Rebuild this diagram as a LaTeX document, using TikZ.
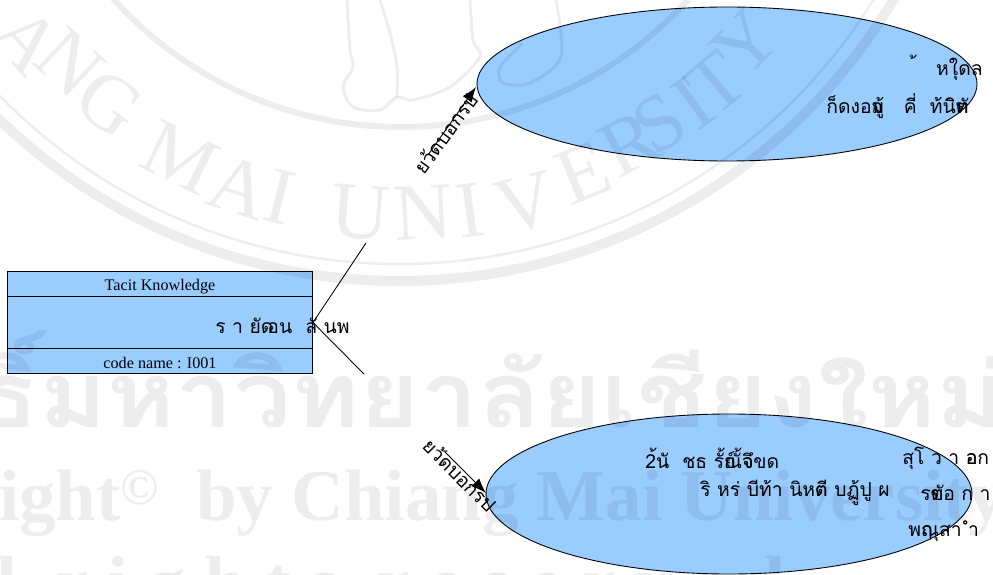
\documentclass[tikz,border=0pt]{standalone}
\usepackage{fontspec}
\setmainfont{Liberation Serif}
\newfontfamily\thaifont[Script=Thai]{Loma}
\newfontfamily\sealthai[Script=Thai,FakeStretch=1.13]{Loma}
\usetikzlibrary{arrows.meta,positioning,shapes.geometric}
\newcommand{\ovl}[2]{\rlap{#1}#2}
\definecolor{fillblue}{HTML}{99CCFF}
\tikzset{
  partbox/.style = {draw, fill=fillblue, minimum width=6.1cm, inner sep=0pt, line width=0.5pt},
  blob/.style = {draw, ellipse, fill=fillblue, inner sep=0pt, line width=0.5pt},
  latintext/.style = {inner sep=0pt, font=\fontsize{9.2}{10}\selectfont},
  thaitext/.style = {inner sep=0pt, anchor=west, font=\thaifont\fontsize{11}{12}\selectfont},
  linklabel/.style = {inner sep=0pt, font=\thaifont\fontsize{11}{12}\selectfont},
  link/.style = {line width=0.5pt},
  linkhead/.style = {line width=0.5pt, -{Latex[length=0.3cm,width=0.22cm]}},
  wmark/.style = {inner sep=0pt, text=black, text opacity=0.07},
  wline/.style = {draw=black, draw opacity=0.07}
}
\begin{document}
\begin{tikzpicture}
  \useasboundingbox (0,0) rectangle (19.86,11.48);
  \clip (0,0) rectangle (19.86,11.48);

  % Boxes
  \node[partbox, minimum height=0.5cm] (title) at (3.2,5.8) {};
  \node[partbox, minimum height=1.04cm] (body) at (3.2,5.03) {};
  \node[partbox, minimum height=0.5cm] (code) at (3.2,4.26) {};
  \node[latintext] (titletext) at (3.2,5.75) {Tacit Knowledge};
  \node[latintext] (codetext) at (3.2,4.22) {code name : I001};

  % Ellipses
  \node[blob, minimum width=10cm, minimum height=3.08cm] (upper) at (14.54,9.8) {};
  \node[blob, minimum width=9.72cm, minimum height=3.2cm] (lower) at (14.58,1.6) {};

  % Edges
  \coordinate (upbreak) at (7.32,6.62);
  \coordinate (upstart) at (8.56,8.38);
  \coordinate (upend) at (9.52,9.74);
  \coordinate (lowbreak) at (7.28,4.0);
  \coordinate (lowstart) at (8.9,2.44);
  \coordinate (lowend) at (9.72,1.62);
  \draw[link] (body.east) -- (upbreak);
  \draw[link] (body.east) -- (lowbreak);
  \draw[linkhead] (upstart) -- (upend);
  \draw[linkhead] (lowstart) -- (lowend);

  % Labels
  \node[thaitext] (bodytext) at (4.3,4.97) {ร า ย\ovl{ด}{ั} อน \ ลั นพ};
  \node[linklabel, rotate=54] (uplabel) at (8.9,8.82) {ยว้ดบอกรป};
  \node[linklabel, rotate=-45] (lowlabel) at (9.2,1.98) {ยว้ดบอกรป};
  \node[thaitext] (upa) at (18.32,10.12) {้ \hspace{0.35em} หใุดล};
  \node[thaitext] (upb) at (16.52,9.36) {ก็ดงอ\ovl{จ}{ม}ู้ \ \ คี่ \ ท้น\ovl{ิ}{ิ}\ovl{ต}{ทั}};
  \node[thaitext] (lowa) at (12.9,2.32) {2้นั \ ชธ รั้\ovl{ย์}{ณ}ั้\ovl{จ}{จึ}ขด};
  \node[thaitext] (lowb) at (14.0,1.62) {ริ หร่ บีท้า นิห\ovl{ต}{ตี} บฏู้ปู ผ};
  \node[thaitext] (lowc) at (18.04,2.32) {สุโ ว า \ovl{อ}{อ}ก};
  \node[thaitext] (lowd) at (18.4,1.62) {ร\ovl{ขั}{ต}อ ก า};
  \node[thaitext] (lowe) at (18.16,0.86) {พ\ovl{ฤ}{ณ}ุสา ำ};

  % Watermark
  \draw[wline, line width=0.2cm] (7.98,17.36) circle (11.5);
  \draw[wline, line width=0.05cm] (7.98,17.36) circle (11.16);
  \draw[wline, line width=0.12cm] (8.02,16.68) circle (7.74);
  \foreach \ltr/\xp/\yp/\ang [count=\n] in {A/0.54/10.68/-48,N/1.4/10.22/-43,G/2.2/9.42/-36,M/3.6/8.34/-26,A/4.8/7.74/-18,I/5.6/7.54/-14,U/7.2/7.22/-4,N/8.46/7.22/3,I/9.4/7.28/8,V/10.52/7.42/14,E/11.66/8.02/22,R/12.6/8.62/28,S/13.2/9.02/32,I/13.86/9.42/36,T/14.32/9.82/40,Y/14.92/10.62/46}
    \node[wmark, rotate=\ang, font=\fontsize{46}{46}\selectfont] (seal\n) at (\xp,\yp) {\ltr};
  \node[wmark, anchor=base east, font=\sealthai\bfseries\fontsize{52}{56}\selectfont] (markthai) at (20.1,2.94) {ลิขสิทธิ์มหาวิทยาลัยเชียงใหม่};
  \node[wmark, anchor=base east, font=\bfseries\fontsize{41.5}{46}\selectfont] (markcopy) at (20.1,1.08) {Copyright\textsuperscript{©}\ \ by Chiang Mai University};
  \node[wmark, anchor=base west, font=\bfseries\fontsize{43}{46}\selectfont] (markall) at (-2.34,-0.68) {A l l \ r i g h t s \ r e s e r v e d};
  \draw[wline, line width=0.06cm] plot[smooth] coordinates {(6.94,11.48) (7.0,10.48) (7.06,10.14) (6.86,9.74) (7.06,9.34) (7.6,9.28) (7.94,9.54) (8.26,9.48) (9.0,9.74) (9.6,10.34) (9.46,10.68) (9.4,11.48)};
  \draw[wline, line width=0.06cm] plot[smooth] coordinates {(7.6,11.48) (7.8,10.82) (7.94,10.14) (7.94,9.54)};
  \draw[wline, line width=0.06cm] plot[smooth] coordinates {(11.12,11.48) (11.22,10.34) (10.6,9.82) (10.06,9.82) (10,10.14) (10.46,10.62)};
\end{tikzpicture}
\end{document}
